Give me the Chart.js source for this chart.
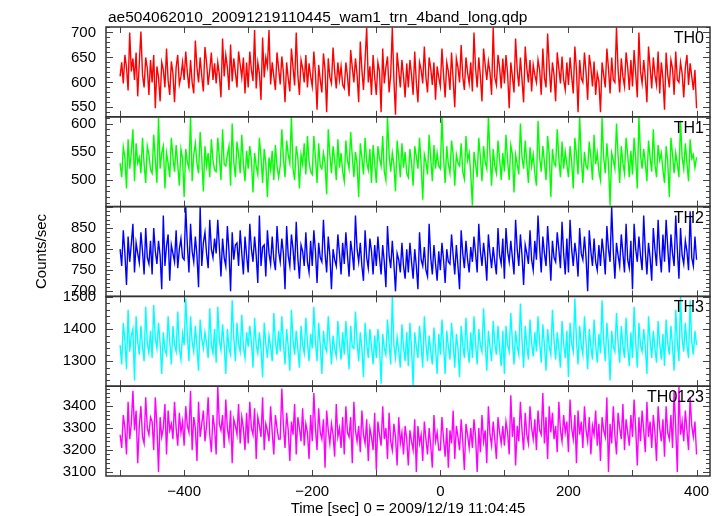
<!DOCTYPE html>
<html lang="en">
<head>
<meta charset="UTF-8">
<title>WAM light curve</title>
<script src="https://cdn.jsdelivr.net/npm/chart.js"></script>
<style>
  body { margin: 0; background: #fff; }
  canvas { display: block; }
</style>
</head>
<body>
<canvas id="lc" width="722" height="516"></canvas>
<script>
// light curve, one sample every 2.5 s from -500 s to +400 s
const tStart = -500;
const tStep = 2.5;

const th0 = [
  612, 640, 598, 655, 630, 584, 700, 622, 648, 605, 660, 572, 640, 702, 615, 590, 650, 628, 575, 645,
  600, 655, 548, 632, 610, 562, 640, 625, 590, 668, 604, 575, 642, 618, 560, 630, 655, 596, 612, 640,
  605, 662, 620, 588, 645, 600, 578, 684, 630, 600, 650, 612, 582, 671, 640, 595, 625, 660, 605, 638,
  598, 640, 615, 570, 688, 612, 655, 630, 585, 676, 602, 648, 620, 590, 662, 635, 610, 650, 578, 640,
  590, 662, 625, 603, 705, 588, 640, 618, 565, 690, 610, 650, 632, 705, 596, 640, 612, 585, 660, 628,
  596, 652, 620, 560, 640, 608, 582, 668, 630, 594, 700, 615, 575, 645, 628, 600, 655, 590, 638, 612,
  592, 662, 618, 545, 635, 605, 580, 658, 625, 540, 648, 610, 598, 670, 622, 588, 640, 605, 632, 595,
  588, 640, 612, 572, 665, 630, 600, 648, 615, 560, 682, 625, 585, 645, 710, 600, 632, 575, 655, 610,
  575, 640, 622, 540, 668, 598, 630, 652, 580, 615, 710, 605, 535, 660, 625, 590, 645, 612, 570, 638,
  590, 645, 615, 575, 662, 600, 560, 640, 625, 598, 672, 610, 580, 650, 628, 595, 640, 565, 632, 610,
  592, 668, 615, 570, 640, 622, 585, 660, 605, 550, 648, 630, 600, 675, 612, 585, 650, 620, 598, 640,
  582, 700, 628, 590, 650, 612, 562, 668, 635, 605, 642, 620, 575, 710, 610, 595, 655, 630, 588, 648,
  598, 655, 618, 548, 640, 612, 580, 688, 625, 592, 650, 605, 560, 672, 628, 600, 645, 582, 635, 615,
  600, 645, 625, 575, 668, 610, 590, 698, 632, 580, 640, 615, 562, 660, 628, 598, 652, 605, 585, 640,
  595, 650, 612, 578, 672, 625, 540, 645, 608, 600, 660, 620, 565, 655, 630, 592, 642, 575, 618, 602,
  540, 640, 615, 590, 668, 628, 578, 650, 605, 600, 710, 625, 580, 648, 612, 592, 660, 630, 585, 645,
  592, 665, 618, 570, 700, 622, 598, 645, 610, 560, 672, 630, 588, 650, 615, 595, 662, 578, 640, 608,
  545, 660, 615, 590, 645, 628, 575, 662, 605, 600, 640, 618, 570, 630, 655, 595, 638, 612, 585, 625,
  548
];
const th1 = [
  530, 505, 558, 540, 485, 572, 520, 548, 590, 498, 565, 530, 540, 512, 575, 528, 495, 560, 545, 518,
  512, 580, 535, 495, 610, 520, 548, 560, 485, 548, 530, 505, 575, 540, 515, 562, 528, 490, 555, 538,
  470, 555, 532, 520, 612, 498, 545, 565, 530, 512, 585, 540, 480, 560, 525, 548, 505, 572, 535, 518,
  515, 575, 540, 500, 590, 528, 525, 545, 560, 490, 600, 532, 505, 568, 545, 512, 580, 528, 498, 552,
  520, 560, 535, 478, 548, 525, 510, 575, 540, 495, 555, 530, 470, 540, 518, 552, 500, 562, 525, 505,
  525, 590, 538, 505, 570, 545, 530, 612, 520, 500, 560, 540, 485, 545, 528, 565, 510, 578, 532, 515,
  510, 578, 540, 495, 565, 525, 520, 548, 530, 475, 590, 545, 512, 560, 535, 500, 572, 522, 548, 515,
  498, 570, 535, 520, 585, 542, 505, 550, 528, 470, 565, 540, 510, 575, 532, 518, 555, 495, 562, 530,
  495, 560, 538, 525, 578, 515, 500, 612, 545, 515, 548, 528, 480, 570, 540, 505, 565, 522, 550, 512,
  505, 555, 530, 490, 560, 542, 520, 575, 528, 465, 545, 532, 510, 580, 538, 498, 562, 520, 548, 525,
  520, 612, 540, 495, 560, 528, 512, 570, 545, 490, 545, 530, 525, 565, 515, 502, 578, 535, 548, 510,
  455, 550, 528, 505, 575, 540, 498, 560, 532, 520, 612, 545, 490, 555, 525, 512, 570, 538, 500, 548,
  515, 580, 535, 500, 562, 545, 478, 545, 528, 510, 600, 540, 520, 570, 530, 495, 558, 525, 545, 512,
  490, 605, 540, 515, 560, 532, 500, 578, 545, 470, 555, 530, 525, 590, 538, 505, 568, 520, 550, 528,
  505, 560, 532, 485, 575, 545, 510, 612, 538, 495, 550, 525, 520, 568, 540, 500, 580, 528, 548, 515,
  500, 610, 540, 512, 565, 528, 455, 548, 535, 520, 600, 542, 495, 560, 530, 512, 575, 545, 505, 552,
  510, 575, 538, 485, 612, 545, 520, 555, 530, 498, 570, 540, 515, 590, 528, 505, 562, 535, 548, 518,
  495, 560, 532, 470, 575, 545, 512, 548, 528, 505, 605, 540, 520, 565, 530, 498, 572, 538, 545, 522,
  540
];
const th2 = [
  800, 760, 845, 790, 715, 830, 770, 812, 860, 745, 815, 790, 768, 840, 795, 740, 850, 780, 765, 820,
  740, 850, 795, 765, 820, 785, 705, 880, 760, 808, 835, 725, 810, 790, 770, 845, 755, 800, 825, 780,
  775, 900, 810, 745, 860, 795, 770, 830, 785, 710, 900, 760, 815, 840, 790, 755, 870, 800, 780, 825,
  790, 870, 805, 735, 825, 780, 760, 855, 795, 700, 840, 775, 810, 815, 760, 845, 790, 740, 830, 785,
  745, 860, 800, 770, 830, 785, 720, 880, 760, 805, 810, 735, 845, 790, 765, 830, 775, 750, 855, 795,
  770, 825, 790, 705, 855, 785, 760, 835, 800, 750, 865, 780, 730, 810, 795, 760, 840, 770, 745, 820,
  760, 845, 795, 720, 815, 780, 770, 870, 790, 745, 830, 785, 705, 800, 775, 760, 835, 790, 740, 815,
  765, 840, 785, 735, 820, 790, 750, 880, 800, 770, 815, 760, 725, 845, 780, 755, 825, 795, 740, 810,
  760, 830, 780, 740, 810, 770, 710, 855, 785, 755, 820, 765, 700, 790, 775, 745, 815, 760, 730, 800,
  745, 815, 770, 730, 800, 760, 705, 840, 775, 760, 805, 750, 735, 860, 780, 740, 810, 765, 725, 795,
  750, 815, 775, 720, 800, 770, 765, 835, 785, 740, 810, 760, 705, 845, 790, 755, 820, 775, 745, 805,
  770, 830, 790, 745, 860, 795, 760, 815, 780, 725, 835, 790, 755, 805, 770, 740, 850, 785, 765, 825,
  730, 850, 795, 770, 820, 780, 740, 870, 800, 760, 835, 785, 715, 810, 790, 765, 845, 775, 750, 820,
  775, 880, 805, 745, 830, 790, 760, 855, 795, 725, 820, 780, 770, 840, 800, 755, 865, 790, 740, 825,
  745, 870, 800, 760, 815, 785, 735, 850, 790, 775, 830, 780, 700, 845, 795, 760, 825, 770, 750, 810,
  760, 825, 790, 740, 855, 800, 770, 900, 795, 730, 815, 785, 760, 835, 790, 745, 860, 775, 755, 820,
  705, 860, 800, 770, 830, 785, 750, 880, 795, 740, 815, 780, 725, 850, 800, 760, 870, 790, 745, 835,
  770, 870, 805, 745, 835, 790, 760, 880, 800, 730, 850, 785, 765, 820, 795, 750, 890, 780, 760, 830,
  775
];
const th3 = [
  1350, 1290, 1420, 1365, 1275, 1460, 1330, 1380, 1400, 1240, 1440, 1360, 1320, 1410, 1345, 1300, 1470, 1355, 1325, 1395,
  1310, 1475, 1370, 1340, 1420, 1355, 1260, 1390, 1335, 1320, 1440, 1365, 1290, 1410, 1350, 1330, 1455, 1340, 1305, 1385,
  1350, 1495, 1380, 1300, 1440, 1360, 1330, 1410, 1345, 1270, 1430, 1370, 1340, 1390, 1355, 1310, 1465, 1350, 1325, 1400,
  1295, 1470, 1365, 1335, 1415, 1350, 1260, 1400, 1340, 1320, 1490, 1375, 1300, 1420, 1355, 1330, 1445, 1345, 1310, 1390,
  1345, 1410, 1360, 1280, 1435, 1350, 1325, 1390, 1340, 1250, 1420, 1355, 1310, 1380, 1345, 1300, 1450, 1360, 1320, 1395,
  1330, 1440, 1355, 1290, 1400, 1345, 1270, 1460, 1365, 1320, 1395, 1340, 1280, 1410, 1350, 1325, 1435, 1360, 1300, 1385,
  1340, 1470, 1360, 1300, 1420, 1350, 1260, 1395, 1345, 1330, 1440, 1365, 1290, 1380, 1340, 1315, 1425, 1355, 1305, 1390,
  1320, 1425, 1350, 1275, 1410, 1345, 1340, 1455, 1360, 1300, 1390, 1340, 1250, 1420, 1355, 1310, 1400, 1345, 1290, 1380,
  1310, 1400, 1345, 1230, 1385, 1340, 1320, 1430, 1355, 1290, 1500, 1350, 1310, 1375, 1335, 1280, 1415, 1345, 1300, 1390,
  1285, 1420, 1340, 1225, 1390, 1345, 1310, 1410, 1350, 1280, 1440, 1355, 1300, 1380, 1330, 1290, 1405, 1340, 1260, 1385,
  1320, 1430, 1350, 1260, 1395, 1345, 1305, 1420, 1355, 1280, 1385, 1340, 1250, 1410, 1350, 1310, 1435, 1345, 1295, 1390,
  1310, 1440, 1355, 1290, 1400, 1350, 1330, 1465, 1360, 1270, 1395, 1345, 1300, 1425, 1355, 1320, 1410, 1340, 1285, 1395,
  1260, 1410, 1350, 1330, 1450, 1360, 1290, 1395, 1345, 1320, 1480, 1365, 1280, 1410, 1350, 1305, 1430, 1355, 1315, 1390,
  1330, 1440, 1360, 1295, 1415, 1350, 1270, 1400, 1345, 1320, 1460, 1365, 1305, 1390, 1340, 1280, 1425, 1355, 1310, 1395,
  1250, 1420, 1355, 1330, 1495, 1365, 1290, 1410, 1350, 1320, 1440, 1360, 1275, 1400, 1345, 1305, 1430, 1350, 1295, 1385,
  1325, 1490, 1365, 1300, 1420, 1350, 1240, 1395, 1345, 1330, 1450, 1360, 1295, 1410, 1350, 1310, 1435, 1345, 1285, 1390,
  1310, 1470, 1360, 1280, 1420, 1350, 1330, 1400, 1345, 1260, 1440, 1365, 1310, 1395, 1340, 1295, 1425, 1355, 1305, 1385,
  1285, 1430, 1355, 1320, 1410, 1345, 1270, 1460, 1360, 1300, 1500, 1370, 1330, 1420, 1350, 1310, 1490, 1360, 1320, 1395,
  1350
];
const th0123 = [
  3270, 3210, 3360, 3300, 3180, 3420, 3250, 3320, 3470, 3290, 3380, 3140, 3310, 3400, 3260, 3230, 3440, 3300, 3270, 3350,
  3330, 3200, 3440, 3310, 3100, 3350, 3260, 3300, 3410, 3180, 3380, 3290, 3320, 3250, 3420, 3300, 3220, 3370, 3280, 3330,
  3220, 3400, 3310, 3280, 3470, 3200, 3350, 3300, 3150, 3420, 3260, 3320, 3380, 3240, 3310, 3440, 3270, 3190, 3360, 3300,
  3180, 3490, 3320, 3290, 3360, 3210, 3430, 3300, 3250, 3380, 3140, 3340, 3310, 3270, 3410, 3230, 3350, 3300, 3200, 3370,
  3230, 3420, 3300, 3270, 3390, 3160, 3350, 3310, 3260, 3440, 3200, 3320, 3290, 3240, 3400, 3280, 3180, 3360, 3300, 3250,
  3250, 3480, 3310, 3210, 3370, 3290, 3150, 3330, 3270, 3410, 3180, 3350, 3300, 3240, 3390, 3220, 3320, 3280, 3160, 3360,
  3240, 3460, 3300, 3200, 3390, 3280, 3250, 3340, 3120, 3380, 3290, 3230, 3320, 3270, 3170, 3410, 3260, 3300, 3210, 3350,
  3180, 3400, 3280, 3260, 3350, 3140, 3420, 3290, 3240, 3310, 3190, 3380, 3270, 3230, 3340, 3150, 3300, 3260, 3200, 3370,
  3110, 3330, 3270, 3220, 3400, 3250, 3300, 3160, 3370, 3240, 3200, 3320, 3260, 3130, 3350, 3230, 3280, 3180, 3310, 3250,
  3130, 3290, 3240, 3200, 3340, 3100, 3310, 3230, 3270, 3150, 3330, 3250, 3180, 3300, 3220, 3120, 3360, 3240, 3280, 3200,
  3200, 3350, 3250, 3170, 3300, 3120, 3290, 3230, 3380, 3160, 3310, 3260, 3200, 3340, 3240, 3110, 3320, 3270, 3210, 3300,
  3210, 3340, 3260, 3100, 3300, 3190, 3360, 3240, 3290, 3140, 3400, 3270, 3220, 3330, 3250, 3160, 3350, 3280, 3230, 3310,
  3220, 3330, 3280, 3180, 3450, 3260, 3350, 3130, 3310, 3240, 3420, 3290, 3200, 3370, 3270, 3230, 3400, 3300, 3250, 3340,
  3200, 3380, 3290, 3270, 3460, 3230, 3350, 3160, 3400, 3280, 3370, 3250, 3310, 3190, 3420, 3290, 3240, 3360, 3280, 3330,
  3190, 3430, 3300, 3250, 3360, 3140, 3380, 3270, 3330, 3210, 3400, 3290, 3240, 3350, 3180, 3310, 3270, 3380, 3220, 3320,
  3150, 3350, 3290, 3260, 3440, 3100, 3320, 3230, 3400, 3270, 3180, 3370, 3300, 3250, 3410, 3200, 3340, 3280, 3220, 3360,
  3260, 3430, 3300, 3130, 3350, 3240, 3380, 3290, 3190, 3420, 3260, 3330, 3210, 3360, 3280, 3150, 3400, 3300, 3240, 3340,
  3170, 3400, 3280, 3250, 3360, 3210, 3470, 3300, 3100, 3490, 3270, 3330, 3240, 3380, 3290, 3200, 3440, 3310, 3260, 3330,
  3180
];

const bands = ['TH0', 'TH1', 'TH2', 'TH3', 'TH0123'];
const series = [th0, th1, th2, th3, th0123];
const colors = ['#ff0000', '#00ff00', '#0000ff', '#00ffff', '#ff00ff'];
const yMin = [531, 453, 688, 1222, 3082];
const yMax = [711, 612, 901, 1502, 3491];
const yLabels = [
  [550, 600, 650, 700],
  [500, 550, 600],
  [700, 750, 800, 850],
  [1300, 1400, 1500],
  [3100, 3200, 3300, 3400]
];
const yMajor = [50, 50, 50, 100, 100];
const yMinor = [10, 10, 10, 20, 20];
const xLabels = [-400, -200, 0, 200, 400];
const xTicks = [-500, -400, -300, -200, -100, 0, 100, 200, 300, 400];

const fontName = '"Liberation Sans", Arial, sans-serif';
const minus = v => (v < 0 ? '\u2212' + Math.abs(v) : String(v));

// frames, inward ticks, band names and the file name
const qdpFrame = {
  id: 'qdpFrame',
  afterDatasetsDraw(chart) {
    const { ctx, chartArea } = chart;
    const xs = chart.scales.x;
    ctx.save();
    bands.forEach((name, i) => {
      const ys = chart.scales['y' + i];
      ctx.strokeStyle = '#444';
      ctx.lineWidth = 1;
      ctx.beginPath();
      for (let v = Math.ceil(ys.min / yMinor[i]) * yMinor[i]; v <= ys.max; v += yMinor[i]) {
        const py = Math.round(ys.getPixelForValue(v)) + 0.5;
        const len = v % yMajor[i] === 0 ? 7 : 4;
        ctx.moveTo(chartArea.left, py);
        ctx.lineTo(chartArea.left + len, py);
        ctx.moveTo(chartArea.right, py);
        ctx.lineTo(chartArea.right - len, py);
      }
      xTicks.forEach(t => {
        const px = Math.round(xs.getPixelForValue(t)) + 0.5;
        ctx.moveTo(px, ys.top);
        ctx.lineTo(px, ys.top + 6);
        ctx.moveTo(px, ys.bottom);
        ctx.lineTo(px, ys.bottom - 6);
      });
      ctx.stroke();

      ctx.strokeStyle = '#333';
      ctx.lineWidth = 1.5;
      ctx.strokeRect(chartArea.left, ys.top, chartArea.right - chartArea.left, ys.bottom - ys.top);

      ctx.fillStyle = '#000';
      ctx.font = '16px ' + fontName;
      ctx.textAlign = 'right';
      ctx.textBaseline = 'alphabetic';
      ctx.fillText(name, chartArea.right - 6, ys.top + 16);
    });
    ctx.font = '15.5px ' + fontName;
    ctx.textAlign = 'left';
    ctx.fillText('ae504062010_20091219110445_wam1_trn_4band_long.qdp', chartArea.left + 2, 22);
    ctx.restore();
  }
};

const yScale = i => ({
  type: 'linear',
  position: 'left',
  stack: 'lc',
  stackWeight: 1,
  min: yMin[i],
  max: yMax[i],
  grid: { display: false, drawTicks: false },
  border: { display: false },
  afterBuildTicks: s => { s.ticks = yLabels[i].map(v => ({ value: v })); },
  ticks: {
    autoSkip: false,
    padding: 10,
    color: '#000',
    font: { family: fontName, size: 15 },
    callback: v => String(v)
  },
  title: {
    display: i === 2,
    text: 'Counts/sec',
    color: '#000',
    padding: { top: 33, bottom: 0 },
    font: { family: fontName, size: 15 }
  },
  afterFit: s => { s.width = 106; }
});

const scales = {
  x: {
    type: 'linear',
    position: 'bottom',
    min: -522,
    max: 421,
    grid: { display: false, drawTicks: false },
    border: { display: false },
    afterBuildTicks: s => { s.ticks = xLabels.map(v => ({ value: v })); },
    ticks: {
      autoSkip: false,
      maxRotation: 0,
      padding: 7,
      color: '#000',
      font: { family: fontName, size: 15 },
      callback: v => minus(v)
    },
    title: {
      display: true,
      text: 'Time [sec] 0 = 2009/12/19 11:04:45',
      color: '#000',
      padding: { top: 0, bottom: -2 },
      font: { family: fontName, size: 15 }
    },
    afterFit: s => { s.height = 40; }
  }
};
// stacked axes are laid out bottom-up, so add the bottom panel first
for (let i = bands.length - 1; i >= 0; i--) scales['y' + i] = yScale(i);

const datasets = series.map((vals, i) => ({
  label: bands[i],
  data: vals.map((v, k) => ({ x: tStart + k * tStep, y: v })),
  yAxisID: 'y' + i,
  borderColor: colors[i],
  borderWidth: 1.4,
  pointRadius: 0,
  tension: 0
}));

new Chart(document.getElementById('lc'), {
  type: 'line',
  data: { datasets },
  options: {
    responsive: false,
    animation: false,
    layout: { padding: { top: 27, right: 12, left: 0, bottom: 0 } },
    plugins: { legend: { display: false }, tooltip: { enabled: false } },
    scales
  },
  plugins: [qdpFrame]
});
</script>
</body>
</html>
